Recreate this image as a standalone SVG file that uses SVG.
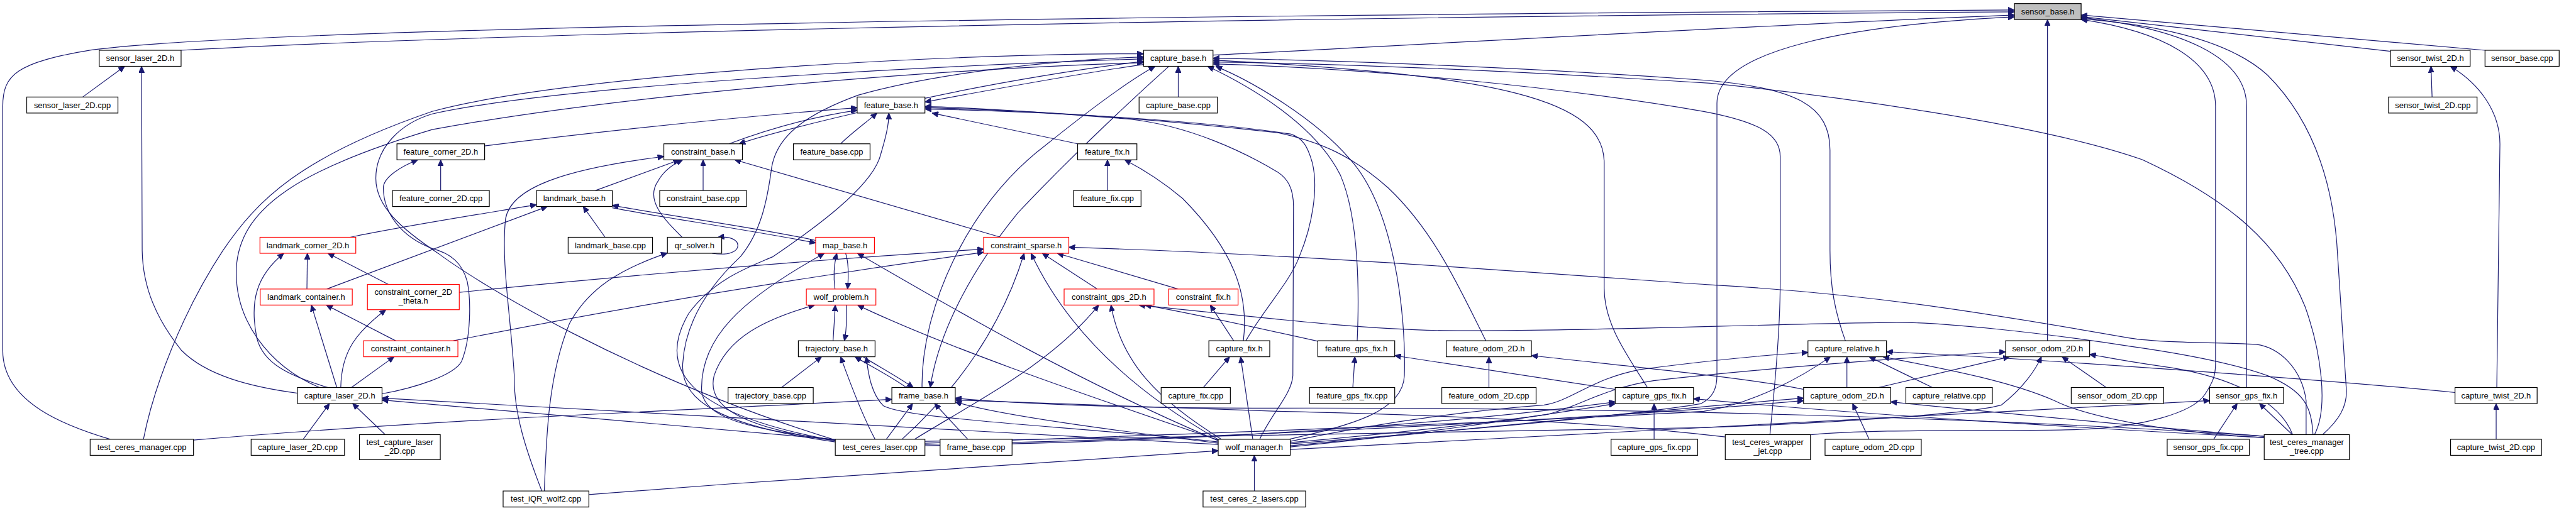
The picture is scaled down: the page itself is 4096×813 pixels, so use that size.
<svg xmlns="http://www.w3.org/2000/svg" width="4096" height="813" viewBox="0 0 4096 813">
<defs>
<style>
.n rect{fill:#fff;stroke:#000;stroke-width:1.2}
.r rect{stroke:#f00}
.g rect{fill:#bfbfbf}
text{font-family:"Liberation Sans",Arial,sans-serif;font-size:13px;text-anchor:middle;fill:#000}
.e path{fill:none;stroke:#191970;stroke-width:1.2;marker-end:url(#a)}
</style>
<marker id="a" viewBox="0 0 10 9" refX="10" refY="4.5" markerWidth="10" markerHeight="9" markerUnits="userSpaceOnUse" orient="auto"><path d="M0,0L10,4.5L0,9z" fill="#191970" stroke="#191970" stroke-width="1"/></marker>
</defs>
<rect width="4096" height="813" fill="#fff"/>
<g transform="scale(0.996)">
<g id="edges" class="e">
<path d="M289,80.3 C700,58 1700,30 3216,19"/>
<path d="M176,701.7 C110,682 4.4,645 4.4,560 L4.4,170 C4.4,120 25,100 145,80 C400,45 1700,25 3216,16"/>
<path d="M1936.5,88 C2300,70 2800,40 3216,24"/>
<path d="M3268.7,544.3 L3268.7,31.3"/>
<path d="M3967.2,80.3 L3322.4,24"/>
<path d="M3816.3,82 L3322.4,26.5"/>
<path d="M3586.6,619 L3586.6,170 C3586.6,90 3480,45 3322.4,28"/>
<path d="M3708,694.3 C3735,670 3746,650 3746,625 L3732,410 C3726,290 3690,190 3620,120 C3560,65 3450,40 3322.4,30"/>
<path d="M2890.3,694.5 C3000,684 3200,690 3320,686 C3420,682 3500,660 3520,630 C3533,610 3537,600 3537,580 L3537,170 C3537,95 3450,50 3322.4,31"/>
<path d="M2059.8,709 C2300,690 2600,665 2715,645 C2735,635 2741,620 2741,600 L2741,165 C2741,80 2950,40 3216,27"/>
<path d="M132,155 L199,106"/>
<path d="M474.8,628 C400,618 330,600 290,560 C250,510 228,460 227,400 L226,106"/>
<path d="M3882.7,155 L3881,106"/>
<path d="M3986,619 L3991,230 C3991,180 3960,135 3912,106"/>
<path d="M3985,701.7 L3985,644.6"/>
<path d="M1881,155 L1881,106"/>
<path d="M1476.6,157 C1600,130 1740,108 1825.6,98"/>
<path d="M1825.6,103 C1740,115 1600,140 1476.6,163"/>
<path d="M229,701.7 C245,620 290,500 356,400 C410,320 480,250 690,178 C900,120 1500,85 1825.6,86"/>
<path d="M510,619 C430,585 370,510 378,420 C388,330 480,270 690,207 C1000,150 1500,110 1825.6,100"/>
<path d="M1333.5,703 C1000,600 760,450 700,405 C640,365 600,330 600,285 C600,235 640,197 690,182 C900,135 1500,105 1825.6,94"/>
<path d="M1333.5,706 C1150,680 1085,640 1090,580 C1095,500 1150,440 1182,410 C1215,370 1225,320 1232,267 C1240,220 1280,185 1370,152 C1500,115 1700,95 1825.6,91"/>
<path d="M1472,619 C1470,500 1540,330 1668,233 C1740,175 1800,130 1844,106"/>
<path d="M1866,106 C1800,165 1700,260 1625,340 C1560,420 1500,520 1485,619"/>
<path d="M2058,701.7 C2150,680 2240,660 2242,600 C2245,500 2225,330 2154,253 C2100,190 2000,130 1941,106"/>
<path d="M2166.7,544.3 C2170,470 2170,350 2140,280 C2100,200 2000,140 1928,106"/>
<path d="M2630,619 C2600,570 2561,520 2561,460 L2561,260 C2561,160 2400,120 1936.5,96"/>
<path d="M2946,544.3 C2930,500 2921.5,460 2921.5,400 L2921.5,240 C2921.5,170 2870,140 2720,128 C2400,105 2100,96 1936.5,93"/>
<path d="M3695,694.3 C3718,650 3705,560 3680,490 C3640,390 3560,320 3420,255 C3250,195 2900,150 2730,133 C2400,112 2150,102 1936.5,99"/>
<path d="M2825.6,694.3 C2835,600 2842,520 2842,450 L2842,250 C2842,215 2810,195 2720,178 C2500,140 2200,110 1936.5,102"/>
<path d="M773.7,233 C1000,205 1200,185 1368.4,172"/>
<path d="M1164,229.7 C1230,205 1300,186 1368.4,176"/>
<path d="M1368.4,180 C1300,196 1225,214 1180,229.7"/>
<path d="M1342,229.7 C1360,212 1380,198 1400,180.6"/>
<path d="M1720.4,229.7 L1488,180.6"/>
<path d="M1333.5,704 C1120,665 1040,600 1100,500 C1140,445 1200,425 1234,410 C1300,365 1390,300 1405,250 C1414,220 1419,200 1419,180.6"/>
<path d="M2372,544.3 C2330,460 2290,370 2216,300 C2160,250 2110,227 2040,212 C1800,185 1600,175 1476.6,172"/>
<path d="M1989,544.3 C2020,490 2060,450 2075,408 C2095,360 2105,300 2095,260 C2088,235 2080,220 2060,214 C1900,190 1650,178 1476.6,174"/>
<path d="M2011,701.7 C2030,660 2062,630 2064,600 L2065,330 C2065,300 2055,285 2040,275 C1990,245 1900,200 1800,190 C1650,178 1550,172 1476.6,170"/>
<path d="M1122.5,304.3 L1122.5,255.3"/>
<path d="M950.6,304.3 L1085,255.3"/>
<path d="M1089,379 C1060,350 1030,320 1050,290 C1060,272 1075,262 1090,255.3"/>
<path d="M865,784.3 C840,720 820,660 821,600 C815,500 800,420 807,350 C815,300 900,270 1059.8,250"/>
<path d="M1597.6,379 L1173,255.3"/>
<path d="M703.5,304.3 L703.5,255.3"/>
<path d="M609.9,629 C660,620 725,600 737,577 C752,540 752,480 746,450 C738,420 720,405 690,397 C640,378 612,340 612,300 C612,283 640,266 667,255.3"/>
<path d="M559,379 C650,360 780,340 856.5,327"/>
<path d="M521.5,461.7 L873.6,329.9"/>
<path d="M966,379 L931,329.9"/>
<path d="M1302.2,384 C1200,362 1050,342 977.5,328"/>
<path d="M977.5,332 C1050,346 1200,368 1302.2,388"/>
<path d="M523.6,619 C460,600 420,580 410,540 C398,480 410,440 453,404.6"/>
<path d="M490,461.7 L490.7,404.6"/>
<path d="M620,454.3 L523.6,404.6"/>
<path d="M537.7,619 L497,487.3"/>
<path d="M631.5,544.3 L521,487.3"/>
<path d="M544,619 C545,560 570,530 616,494.7"/>
<path d="M561,619 L629,569.9"/>
<path d="M484,701.7 L526,644.6"/>
<path d="M615,694.3 L563,644.6"/>
<path d="M1333.5,702 L609.9,639"/>
<path d="M1944.8,710 L609.9,636"/>
<path d="M869,784.3 C872,700 875,600 909,517 C940,460 990,430 1065.5,404"/>
<path d="M1137,404.6 C1165,409 1178,401 1178,392 C1178,383 1165,377 1146,379"/>
<path d="M1333,461.7 C1330,440 1332,420 1336,404.6"/>
<path d="M1350,404.6 C1355,420 1355,440 1353,461.7"/>
<path d="M1333.5,703 C1200,685 1120,670 1120,620 C1120,540 1180,480 1316,404.6"/>
<path d="M1944.8,704 C1700,600 1500,480 1369,404.6"/>
<path d="M1330,544.3 L1333.5,487.3"/>
<path d="M1351,487.3 C1352,510 1351,530 1348,544.3"/>
<path d="M1333.5,704 C1160,680 1130,640 1140,600 C1160,540 1220,510 1300.5,487.3"/>
<path d="M1944.8,703 C1700,620 1500,550 1369,487.3"/>
<path d="M1247.7,619 L1311.5,569.9"/>
<path d="M1397,701.7 C1380,670 1360,620 1342,569.9"/>
<path d="M1447,619 C1420,600 1390,585 1365,569.9"/>
<path d="M1378,569.9 C1402,585 1430,600 1458,619"/>
<path d="M1944.8,706 C1700,680 1450,670 1410,648 C1392,630 1386,600 1383,569.9"/>
<path d="M308.9,703 C700,670 1000,660 1423.8,638"/>
<path d="M1415,701.7 L1457,644.6"/>
<path d="M1545,701.7 L1492,644.6"/>
<path d="M1944.8,708 C1800,690 1600,665 1525,642"/>
<path d="M3614.7,697 C3200,668 2600,650 2000,652 C1800,652 1620,645 1525,636"/>
<path d="M2754.3,698 C2600,680 2400,665 2040,657 C1800,650 1620,642 1525,639"/>
<path d="M733.2,467 C1000,440 1300,415 1570.3,398"/>
<path d="M724,544.3 C1000,490 1300,440 1570.3,403"/>
<path d="M1440,701.7 C1530,620 1600,520 1635,404.6"/>
<path d="M1944.8,702 C1800,620 1700,520 1646,404.6"/>
<path d="M1751.6,461.7 L1664,404.6"/>
<path d="M1881,461.7 L1688,404.6"/>
<path d="M3681.6,694.3 L3681.6,640 C3675,590 3640,555 3602,550 C3550,547 3450,548 3400,540 C3200,505 3000,470 2730,455 C2400,432 2050,405 1706.3,395"/>
<path d="M1460,701.7 C1560,640 1680,580 1754,487.3"/>
<path d="M1950,701.7 C1850,640 1790,580 1773.6,487.3"/>
<path d="M2103.8,545 C2000,522 1900,500 1828,487.3"/>
<path d="M3692.6,694.3 C3690,650 3680,625 3620,600 C3550,575 3450,560 3400,553 C3250,530 3100,515 3028,515 C2800,518 2500,530 2304,528 C2150,525 2000,505 1818,487.3"/>
<path d="M1969.5,544.3 L1932,487.3"/>
<path d="M1768,304.3 L1768,255.3"/>
<path d="M1985,544.3 C1994,470 1970,400 1888,317 C1850,285 1820,268 1795.6,255.3"/>
<path d="M1921,619 L1963,569.9"/>
<path d="M2000,701.7 L1980.5,569.9"/>
<path d="M2002.5,784.3 L2002.5,727.3"/>
<path d="M940.1,790 C1300,762 1700,735 1944.8,720"/>
<path d="M2159.7,619 L2163,569.9"/>
<path d="M2578.6,622 L2226.6,568"/>
<path d="M2377,619 L2377,569.9"/>
<path d="M2879.3,622 C2800,605 2600,585 2444.8,568"/>
<path d="M2640.7,701.7 L2640.7,644.6"/>
<path d="M2059.8,714 C2300,690 2450,665 2578.6,645"/>
<path d="M1476.6,712 C1900,705 2300,680 2578.6,642"/>
<path d="M3614.7,699 C3400,688 3000,665 2703.6,637"/>
<path d="M2948.5,619 L2948.5,569.9"/>
<path d="M3085,619 L2984,569.9"/>
<path d="M2059.8,705 C2250,665 2400,652 2465,647 C2510,640 2540,605 2620,590 C2720,577 2820,567 2886.3,563"/>
<path d="M1476.6,708 C2000,690 2500,670 2720,657 C2800,645 2880,600 2922,569.9"/>
<path d="M3614.7,699 C3450,690 3330,665 3280,640 C3200,605 3080,585 3006,569.9"/>
<path d="M2984,701.7 L2957.6,644.6"/>
<path d="M2059.8,712 C2400,680 2700,650 2879.3,636"/>
<path d="M1476.6,710 C2000,700 2600,665 2879.3,640"/>
<path d="M3614.7,697 C3400,680 3200,660 3018.4,642"/>
<path d="M3362.5,619 L3292,569.9"/>
<path d="M2999,619 L3208,569.9"/>
<path d="M2059.8,707 C2250,690 2400,672 2470,662 C2520,650 2560,620 2640,608 C2800,590 3050,570 3201.9,562"/>
<path d="M1476.6,705 C1800,700 2300,690 2720,683 C2950,675 3150,660 3195,647 C3230,620 3250,590 3259,569.9"/>
<path d="M3660,694.3 C3640,640 3560,600 3450,585 C3400,578 3370,572 3336,566"/>
<path d="M3534,701.7 L3571.6,644.6"/>
<path d="M3659.6,694.3 L3607,644.6"/>
<path d="M2059.8,718 C2600,690 3200,655 3527.6,640"/>
<path d="M3919.3,627 C3700,605 3200,570 3011.7,562"/>
</g>
<g id="n_SB" class="n g"><rect x="3216" y="5.7" width="106.4" height="25.6"/><text x="3269.2" y="23.1">sensor_base.h</text></g>
<g id="n_SL" class="n"><rect x="158.4" y="80.3" width="130.7" height="25.6"/><text x="223.75" y="97.7">sensor_laser_2D.h</text></g>
<g id="n_SLc" class="n"><rect x="42.7" y="155" width="145.6" height="25.6"/><text x="115.5" y="172.4">sensor_laser_2D.cpp</text></g>
<g id="n_CB" class="n"><rect x="1825.6" y="80.3" width="110.9" height="25.6"/><text x="1881.05" y="97.7">capture_base.h</text></g>
<g id="n_CBc" class="n"><rect x="1818.5" y="155" width="125" height="25.6"/><text x="1881" y="172.4">capture_base.cpp</text></g>
<g id="n_ST" class="n"><rect x="3816.3" y="80.3" width="127.2" height="25.6"/><text x="3879.9" y="97.7">sensor_twist_2D.h</text></g>
<g id="n_SBc" class="n"><rect x="3967.2" y="80.3" width="118.4" height="25.6"/><text x="4026.4" y="97.7">sensor_base.cpp</text></g>
<g id="n_STc" class="n"><rect x="3813.2" y="155" width="141.3" height="25.6"/><text x="3883.85" y="172.4">sensor_twist_2D.cpp</text></g>
<g id="n_FB" class="n"><rect x="1368.4" y="155" width="108.2" height="25.6"/><text x="1422.5" y="172.4">feature_base.h</text></g>
<g id="n_FC" class="n"><rect x="633.7" y="229.7" width="140" height="25.6"/><text x="703.7" y="247.1">feature_corner_2D.h</text></g>
<g id="n_CoB" class="n"><rect x="1059.8" y="229.7" width="125.4" height="25.6"/><text x="1122.5" y="247.1">constraint_base.h</text></g>
<g id="n_FBc" class="n"><rect x="1266.6" y="229.7" width="122.4" height="25.6"/><text x="1327.8" y="247.1">feature_base.cpp</text></g>
<g id="n_FF" class="n"><rect x="1720.4" y="229.7" width="94.6" height="25.6"/><text x="1767.7" y="247.1">feature_fix.h</text></g>
<g id="n_FCc" class="n"><rect x="626.6" y="304.3" width="154.6" height="25.6"/><text x="703.9" y="321.7">feature_corner_2D.cpp</text></g>
<g id="n_LB" class="n"><rect x="856.5" y="304.3" width="121" height="25.6"/><text x="917" y="321.7">landmark_base.h</text></g>
<g id="n_CoBc" class="n"><rect x="1053.2" y="304.3" width="138.6" height="25.6"/><text x="1122.5" y="321.7">constraint_base.cpp</text></g>
<g id="n_FFc" class="n"><rect x="1713.8" y="304.3" width="107.8" height="25.6"/><text x="1767.7" y="321.7">feature_fix.cpp</text></g>
<g id="n_LC" class="n r"><rect x="415" y="379" width="153" height="25.6"/><text x="491.5" y="396.4">landmark_corner_2D.h</text></g>
<g id="n_LBc" class="n"><rect x="907" y="379" width="134.7" height="25.6"/><text x="974.35" y="396.4">landmark_base.cpp</text></g>
<g id="n_QR" class="n"><rect x="1065.5" y="379" width="86.7" height="25.6"/><text x="1108.85" y="396.4">qr_solver.h</text></g>
<g id="n_MB" class="n r"><rect x="1302.2" y="379" width="93.8" height="25.6"/><text x="1349.1" y="396.4">map_base.h</text></g>
<g id="n_CS" class="n r"><rect x="1570.3" y="379" width="136" height="25.6"/><text x="1638.3" y="396.4">constraint_sparse.h</text></g>
<g id="n_LCo" class="n r"><rect x="415.4" y="461.7" width="147" height="25.6"/><text x="488.9" y="479.1">landmark_container.h</text></g>
<g id="n_CC2T" class="n r"><rect x="586.6" y="454.3" width="146.6" height="40.4"/><text x="659.9" y="471.3">constraint_corner_2D</text><text x="659.9" y="485">_theta.h</text></g>
<g id="n_WP" class="n r"><rect x="1287.3" y="461.7" width="111" height="25.6"/><text x="1342.8" y="479.1">wolf_problem.h</text></g>
<g id="n_CG" class="n r"><rect x="1698.8" y="461.7" width="143.5" height="25.6"/><text x="1770.55" y="479.1">constraint_gps_2D.h</text></g>
<g id="n_CF" class="n r"><rect x="1865.6" y="461.7" width="110.9" height="25.6"/><text x="1921.05" y="479.1">constraint_fix.h</text></g>
<g id="n_CCo" class="n r"><rect x="580.4" y="544.3" width="150.6" height="25.6"/><text x="655.7" y="561.7">constraint_container.h</text></g>
<g id="n_TB" class="n"><rect x="1274.5" y="544.3" width="122.5" height="25.6"/><text x="1335.75" y="561.7">trajectory_base.h</text></g>
<g id="n_CFx" class="n"><rect x="1929.9" y="544.3" width="97.2" height="25.6"/><text x="1978.5" y="561.7">capture_fix.h</text></g>
<g id="n_FG" class="n"><rect x="2103.8" y="544.3" width="122.8" height="25.6"/><text x="2165.2" y="561.7">feature_gps_fix.h</text></g>
<g id="n_FO" class="n"><rect x="2308.9" y="544.3" width="135.9" height="25.6"/><text x="2376.85" y="561.7">feature_odom_2D.h</text></g>
<g id="n_CR" class="n"><rect x="2886.3" y="544.3" width="125.4" height="25.6"/><text x="2949" y="561.7">capture_relative.h</text></g>
<g id="n_SO" class="n"><rect x="3201.9" y="544.3" width="134.1" height="25.6"/><text x="3268.95" y="561.7">sensor_odom_2D.h</text></g>
<g id="n_CL" class="n"><rect x="474.8" y="619" width="135.1" height="25.6"/><text x="542.35" y="636.4">capture_laser_2D.h</text></g>
<g id="n_TBc" class="n"><rect x="1162.3" y="619" width="136" height="25.6"/><text x="1230.3" y="636.4">trajectory_base.cpp</text></g>
<g id="n_FrB" class="n"><rect x="1423.8" y="619" width="101.2" height="25.6"/><text x="1474.4" y="636.4">frame_base.h</text></g>
<g id="n_CFxc" class="n"><rect x="1853.7" y="619" width="110.5" height="25.6"/><text x="1908.95" y="636.4">capture_fix.cpp</text></g>
<g id="n_FGc" class="n"><rect x="2090.6" y="619" width="136" height="25.6"/><text x="2158.6" y="636.4">feature_gps_fix.cpp</text></g>
<g id="n_FOc" class="n"><rect x="2301.8" y="619" width="150.5" height="25.6"/><text x="2377.05" y="636.4">feature_odom_2D.cpp</text></g>
<g id="n_CGF" class="n"><rect x="2578.6" y="619" width="125" height="25.6"/><text x="2641.1" y="636.4">capture_gps_fix.h</text></g>
<g id="n_CO" class="n"><rect x="2879.3" y="619" width="139.1" height="25.6"/><text x="2948.85" y="636.4">capture_odom_2D.h</text></g>
<g id="n_CRc" class="n"><rect x="3042.6" y="619" width="138.1" height="25.6"/><text x="3111.65" y="636.4">capture_relative.cpp</text></g>
<g id="n_SOc" class="n"><rect x="3306.6" y="619" width="147.5" height="25.6"/><text x="3380.35" y="636.4">sensor_odom_2D.cpp</text></g>
<g id="n_SG" class="n"><rect x="3527.6" y="619" width="117.9" height="25.6"/><text x="3586.55" y="636.4">sensor_gps_fix.h</text></g>
<g id="n_CT" class="n"><rect x="3919.3" y="619" width="131.1" height="25.6"/><text x="3984.85" y="636.4">capture_twist_2D.h</text></g>
<g id="n_TCM" class="n"><rect x="143.9" y="701.7" width="165" height="25.6"/><text x="226.4" y="719.1">test_ceres_manager.cpp</text></g>
<g id="n_CLc" class="n"><rect x="400.9" y="701.7" width="149.1" height="25.6"/><text x="475.45" y="719.1">capture_laser_2D.cpp</text></g>
<g id="n_TCL2" class="n"><rect x="573.8" y="694.3" width="129.1" height="40"/><text x="638.35" y="711.1">test_capture_laser</text><text x="638.35" y="724.8">_2D.cpp</text></g>
<g id="n_TCL" class="n"><rect x="1333.5" y="701.7" width="143.1" height="25.6"/><text x="1405.05" y="719.1">test_ceres_laser.cpp</text></g>
<g id="n_FrBc" class="n"><rect x="1500.8" y="701.7" width="114.9" height="25.6"/><text x="1558.25" y="719.1">frame_base.cpp</text></g>
<g id="n_WM" class="n"><rect x="1944.8" y="701.7" width="115" height="25.6"/><text x="2002.3" y="719.1">wolf_manager.h</text></g>
<g id="n_CGFc" class="n"><rect x="2572" y="701.7" width="138.2" height="25.6"/><text x="2641.1" y="719.1">capture_gps_fix.cpp</text></g>
<g id="n_TCWJ" class="n"><rect x="2754.3" y="694.3" width="136" height="40"/><text x="2822.3" y="711.1">test_ceres_wrapper</text><text x="2822.3" y="724.8">_jet.cpp</text></g>
<g id="n_COc" class="n"><rect x="2913.6" y="701.7" width="153.6" height="25.6"/><text x="2990.4" y="719.1">capture_odom_2D.cpp</text></g>
<g id="n_SGc" class="n"><rect x="3459.8" y="701.7" width="131.2" height="25.6"/><text x="3525.4" y="719.1">sensor_gps_fix.cpp</text></g>
<g id="n_TCMT" class="n"><rect x="3614.7" y="694.3" width="136" height="40"/><text x="3682.7" y="711.1">test_ceres_manager</text><text x="3682.7" y="724.8">_tree.cpp</text></g>
<g id="n_CTc" class="n"><rect x="3912.2" y="701.7" width="145.2" height="25.6"/><text x="3984.8" y="719.1">capture_twist_2D.cpp</text></g>
<g id="n_TIQR" class="n"><rect x="803.2" y="784.3" width="136.9" height="25.6"/><text x="871.65" y="801.7">test_iQR_wolf2.cpp</text></g>
<g id="n_TC2L" class="n"><rect x="1920.6" y="784.3" width="163.8" height="25.6"/><text x="2002.5" y="801.7">test_ceres_2_lasers.cpp</text></g>
</g>
</svg>
